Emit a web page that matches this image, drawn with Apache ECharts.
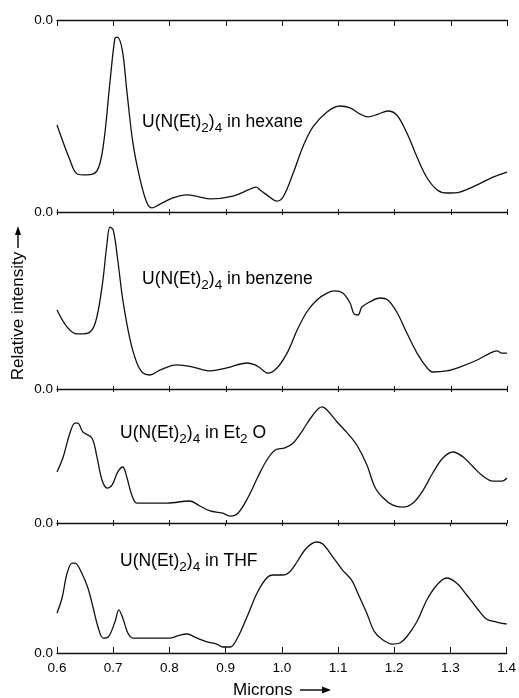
<!DOCTYPE html>
<html>
<head>
<meta charset="utf-8">
<script src="https://cdn.jsdelivr.net/npm/echarts@6/dist/echarts.min.js"></script>
<style>
html,body{margin:0;padding:0;background:#fff;}
#chart{width:519px;height:698px;}
</style>
</head>
<body>
<div id="chart"></div>
<script>
// ---- data (x: microns, y: relative intensity, panel-normalised) ----
const xTicks = ['0.6','0.7','0.8','0.9','1.0','1.1','1.2','1.3','1.4'];
const zeroLabel = '0.0';
const solvents = ['hexane', 'benzene', 'Et\u2082 O', 'THF'];

const hexane = [
 [0.600,0.453],[0.623,0.271],[0.636,0.198],[0.653,0.193],[0.671,0.214],[0.682,0.339],
 [0.694,0.672],[0.703,0.906],[0.707,0.911],[0.716,0.844],[0.724,0.635],[0.735,0.359],
 [0.748,0.167],[0.760,0.047],[0.769,0.021],[0.780,0.036],[0.806,0.073],[0.831,0.089],
 [0.854,0.078],[0.872,0.068],[0.913,0.083],[0.940,0.115],[0.954,0.130],[0.961,0.115],
 [0.973,0.089],[0.991,0.057],[1.002,0.078],[1.020,0.203],[1.037,0.339],[1.055,0.443],
 [1.080,0.521],[1.103,0.552],[1.121,0.542],[1.139,0.510],[1.153,0.495],[1.171,0.510],
 [1.188,0.526],[1.204,0.505],[1.222,0.411],[1.240,0.286],[1.258,0.177],[1.276,0.115],
 [1.293,0.099],[1.316,0.104],[1.347,0.141],[1.375,0.182],[1.400,0.208]
];
const benzene = [
 [0.600,0.446],[0.618,0.350],[0.636,0.311],[0.655,0.316],[0.668,0.373],[0.680,0.576],
 [0.689,0.825],[0.694,0.915],[0.700,0.898],[0.708,0.729],[0.717,0.503],[0.730,0.277],
 [0.742,0.147],[0.753,0.090],[0.765,0.079],[0.783,0.107],[0.813,0.136],[0.842,0.124],
 [0.872,0.102],[0.902,0.119],[0.938,0.147],[0.952,0.136],[0.961,0.119],[0.975,0.090],
 [0.991,0.119],[1.009,0.203],[1.027,0.333],[1.044,0.435],[1.062,0.503],[1.080,0.542],
 [1.094,0.554],[1.108,0.542],[1.121,0.486],[1.128,0.424],[1.135,0.418],[1.142,0.463],
 [1.156,0.492],[1.174,0.514],[1.188,0.503],[1.204,0.435],[1.222,0.316],[1.240,0.203],
 [1.258,0.119],[1.268,0.096],[1.293,0.102],[1.316,0.124],[1.347,0.164],[1.370,0.203],
 [1.382,0.215],[1.391,0.203],[1.400,0.203]
];
const ether = [
 [0.600,0.381],[0.611,0.493],[0.623,0.672],[0.632,0.746],[0.637,0.746],[0.646,0.679],
 [0.662,0.634],[0.671,0.493],[0.680,0.321],[0.689,0.261],[0.698,0.284],[0.708,0.381],
 [0.717,0.418],[0.724,0.343],[0.733,0.209],[0.742,0.149],[0.765,0.149],[0.796,0.149],
 [0.836,0.164],[0.854,0.127],[0.872,0.090],[0.893,0.075],[0.908,0.052],[0.922,0.075],
 [0.940,0.194],[0.957,0.343],[0.973,0.470],[0.988,0.545],[1.005,0.560],[1.020,0.597],
 [1.037,0.694],[1.055,0.806],[1.071,0.866],[1.080,0.843],[1.098,0.754],[1.116,0.672],
 [1.133,0.582],[1.151,0.433],[1.165,0.269],[1.180,0.187],[1.197,0.134],[1.215,0.119],
 [1.233,0.149],[1.251,0.246],[1.268,0.373],[1.286,0.485],[1.304,0.530],[1.322,0.493],
 [1.340,0.418],[1.357,0.351],[1.375,0.313],[1.391,0.313],[1.400,0.336]
];
const thf = [
 [0.600,0.308],[0.609,0.423],[0.618,0.615],[0.627,0.692],[0.632,0.692],[0.644,0.615],
 [0.655,0.500],[0.664,0.354],[0.673,0.200],[0.682,0.115],[0.691,0.123],[0.703,0.238],
 [0.710,0.331],[0.717,0.269],[0.726,0.154],[0.735,0.115],[0.753,0.115],[0.783,0.115],
 [0.801,0.115],[0.819,0.138],[0.831,0.146],[0.849,0.115],[0.867,0.085],[0.884,0.069],
 [0.895,0.046],[0.908,0.046],[0.922,0.123],[0.938,0.277],[0.956,0.462],[0.973,0.577],
 [0.984,0.600],[1.002,0.600],[1.014,0.623],[1.027,0.700],[1.044,0.808],[1.062,0.854],
 [1.073,0.838],[1.091,0.738],[1.108,0.638],[1.124,0.562],[1.135,0.462],[1.151,0.308],
 [1.165,0.162],[1.180,0.100],[1.197,0.069],[1.210,0.077],[1.222,0.123],[1.240,0.238],
 [1.258,0.408],[1.276,0.523],[1.293,0.577],[1.311,0.538],[1.329,0.446],[1.347,0.346],
 [1.364,0.262],[1.382,0.238],[1.400,0.223]
];
const seriesData = [hexane, benzene, ether, thf];

// ---- layout / style ----
const FONT = '"Liberation Sans", Arial, sans-serif';
const panelTop = [20, 212, 389, 523];
const panelH = [192, 177, 134, 130];
const labelPos = [[142,121],[142,278],[120,432],[120,560]];
const ink = '#111';

const grids = [], xAxes = [], yAxes = [], series = [];
for (let i = 0; i < 4; i++) {
  grids.push({left: 57, right: 12, top: panelTop[i], height: panelH[i]});
  xAxes.push({
    type: 'value', gridIndex: i, position: 'bottom', min: 0.6, max: 1.4, interval: 0.1,
    axisLine: {show: true, onZero: false, lineStyle: {color: ink, width: 1.3}},
    axisTick: {show: true, inside: true, length: i === 3 ? 6 : 3, lineStyle: {color: ink, width: 1}},
    axisLabel: {show: i === 3, color: '#000', fontFamily: FONT, fontSize: 13.5, margin: 8,
      formatter: v => xTicks[Math.round((v - 0.6) * 10)] || ''},
    splitLine: {show: false}
  });
}
for (let i = 0; i < 4; i++) {
  xAxes.push({
    type: 'value', gridIndex: i, position: 'top', min: 0.6, max: 1.4, interval: 0.1,
    axisLine: {show: i === 0, onZero: false, lineStyle: {color: ink, width: 1.3}},
    axisTick: {show: true, inside: true, length: i === 0 ? 6 : 3, lineStyle: {color: ink, width: 1}},
    axisLabel: {show: false},
    splitLine: {show: false}
  });
  yAxes.push({
    type: 'value', gridIndex: i, min: 0, max: 1, interval: 1,
    axisLine: {show: false}, axisTick: {show: false}, splitLine: {show: false},
    axisLabel: {color: '#000', fontFamily: FONT, fontSize: 13.5, margin: 4,
      formatter: v => (v === 0 || (i === 0 && v === 1)) ? zeroLabel : ''}
  });
  series.push({
    type: 'line', xAxisIndex: i, yAxisIndex: i, data: seriesData[i],
    showSymbol: false, smooth: 0.35, silent: true,
    lineStyle: {color: ink, width: 1.3}
  });
}

const rich = {
  m: {fontFamily: FONT, fontSize: 17.5, color: '#000', lineHeight: 22},
  s: {fontFamily: FONT, fontSize: 13.5, color: '#000', lineHeight: 22, padding: [11, 0, 0, 0]}
};
const graphics = solvents.map((s, i) => ({
  type: 'text', left: labelPos[i][0], top: labelPos[i][1] - 11,
  style: {
    text: '{m|U(N(Et)}{s|2}{m|)}{s|4}{m| in ' + s.replace('\u2082 ', '}{s|2}{m| ') + '}',
    rich: rich
  }
}));
graphics.push({
  type: 'text', x: 18, y: 316, rotation: Math.PI / 2,
  style: {text: 'Relative intensity', fontFamily: FONT, fontSize: 17, fill: '#000',
    align: 'center', verticalAlign: 'middle'}
});
graphics.push({type: 'line', shape: {x1: 18, y1: 248, x2: 18, y2: 232}, style: {stroke: '#000', lineWidth: 1.4}});
graphics.push({type: 'polygon', shape: {points: [[18, 226], [15, 235], [21, 235]]}, style: {fill: '#000'}});
graphics.push({
  type: 'text', x: 233, y: 690,
  style: {text: 'Microns', fontFamily: FONT, fontSize: 17, fill: '#000',
    align: 'left', verticalAlign: 'middle'}
});
graphics.push({type: 'line', shape: {x1: 300, y1: 690, x2: 324, y2: 690}, style: {stroke: '#000', lineWidth: 1.4}});
graphics.push({type: 'polygon', shape: {points: [[331, 690], [322, 686.5], [322, 693.5]]}, style: {fill: '#000'}});

const chart = echarts.init(document.getElementById('chart'), null, {renderer: 'canvas'});
chart.setOption({
  animation: false,
  backgroundColor: '#fff',
  grid: grids, xAxis: xAxes, yAxis: yAxes, series: series,
  graphic: graphics
});
</script>
</body>
</html>
